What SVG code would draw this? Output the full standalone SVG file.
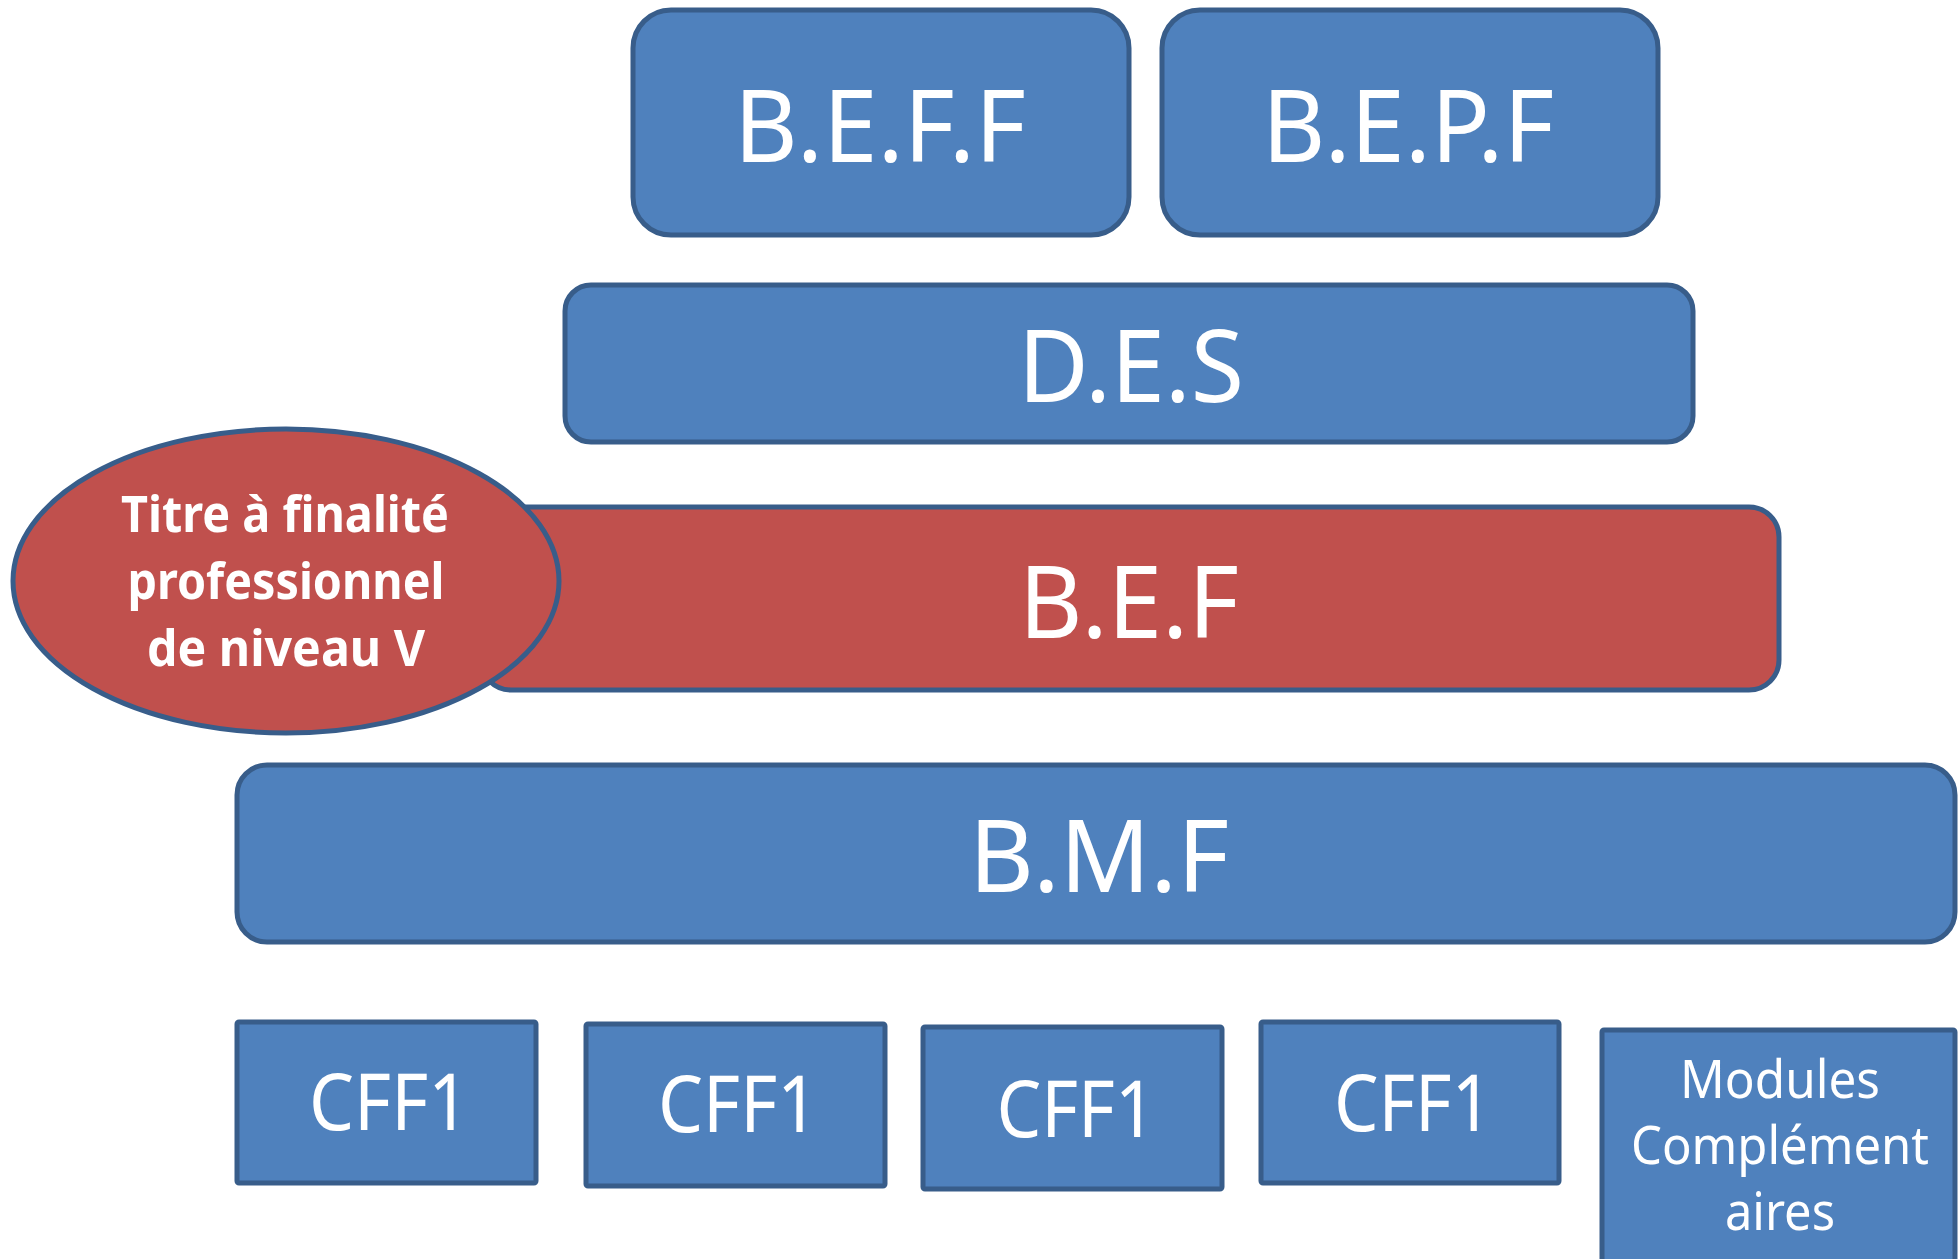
<svg xmlns="http://www.w3.org/2000/svg" width="1959" height="1259" viewBox="0 0 1959 1259">
<style>
.b{fill:#4F81BD;stroke:#385D8A;stroke-width:5}
.r{fill:#C0504D;stroke:#385D8A;stroke-width:5}
.t{fill:#FFFFFF;font-family:"Noto Sans","Open Sans","Liberation Sans",sans-serif;text-anchor:middle}
.big{font-size:100px}
.mid{font-size:78px}
.sm{font-size:52px}
.bold{font-size:50px;font-weight:bold}
</style>
<rect width="1959" height="1259" fill="#FFFFFF"/>
<g id="connectors"></g>
<g id="beff"><rect class="b" x="633" y="10" width="496" height="225" rx="38" ry="38"/><text class="t big" x="880" y="162" textLength="292" lengthAdjust="spacingAndGlyphs">B.E.F.F</text></g>
<g id="bepf"><rect class="b" x="1162" y="10" width="496" height="225" rx="38" ry="38"/><text class="t big" x="1408" y="162" textLength="292" lengthAdjust="spacingAndGlyphs">B.E.P.F</text></g>
<g id="des"><rect class="b" x="565" y="285" width="1128" height="157" rx="26" ry="26"/><text class="t big" x="1131" y="402" textLength="226" lengthAdjust="spacingAndGlyphs">D.E.S</text></g>
<g id="bef"><rect class="r" x="481" y="507" width="1298" height="183" rx="30" ry="30"/><text class="t big" x="1129" y="638" textLength="220" lengthAdjust="spacingAndGlyphs">B.E.F</text></g>
<g id="titre"><ellipse class="r" cx="286" cy="581" rx="273" ry="152"/>
<text class="t bold" x="285" y="532" textLength="328" lengthAdjust="spacingAndGlyphs">Titre à finalité</text>
<text class="t bold" x="286" y="599" textLength="317" lengthAdjust="spacingAndGlyphs">professionnel</text>
<text class="t bold" x="286" y="666" textLength="278" lengthAdjust="spacingAndGlyphs">de niveau V</text></g>
<g id="bmf"><rect class="b" x="237" y="765" width="1718" height="177" rx="30" ry="30"/><text class="t big" x="1099" y="892" textLength="260" lengthAdjust="spacingAndGlyphs">B.M.F</text></g>
<g id="cff1a"><rect class="b" x="237" y="1022" width="299" height="161" rx="2"/><text class="t mid" x="389" y="1130" textLength="160" lengthAdjust="spacingAndGlyphs">CFF1</text></g>
<g id="cff1b"><rect class="b" x="586" y="1024" width="299" height="162" rx="2"/><text class="t mid" x="738" y="1132" textLength="160" lengthAdjust="spacingAndGlyphs">CFF1</text></g>
<g id="cff1c"><rect class="b" x="923" y="1027" width="299" height="162" rx="2"/><text class="t mid" x="1076" y="1137" textLength="159" lengthAdjust="spacingAndGlyphs">CFF1</text></g>
<g id="cff1d"><rect class="b" x="1261" y="1022" width="298" height="161" rx="2"/><text class="t mid" x="1413" y="1131" textLength="158" lengthAdjust="spacingAndGlyphs">CFF1</text></g>
<g id="modules"><rect class="b" x="1602" y="1030" width="353" height="240" rx="2"/>
<text class="t sm" x="1780" y="1098" textLength="200" lengthAdjust="spacingAndGlyphs">Modules</text>
<text class="t sm" x="1780" y="1164" textLength="298" lengthAdjust="spacingAndGlyphs">Complément</text>
<text class="t sm" x="1780" y="1230" textLength="110" lengthAdjust="spacingAndGlyphs">aires</text></g>
</svg>
